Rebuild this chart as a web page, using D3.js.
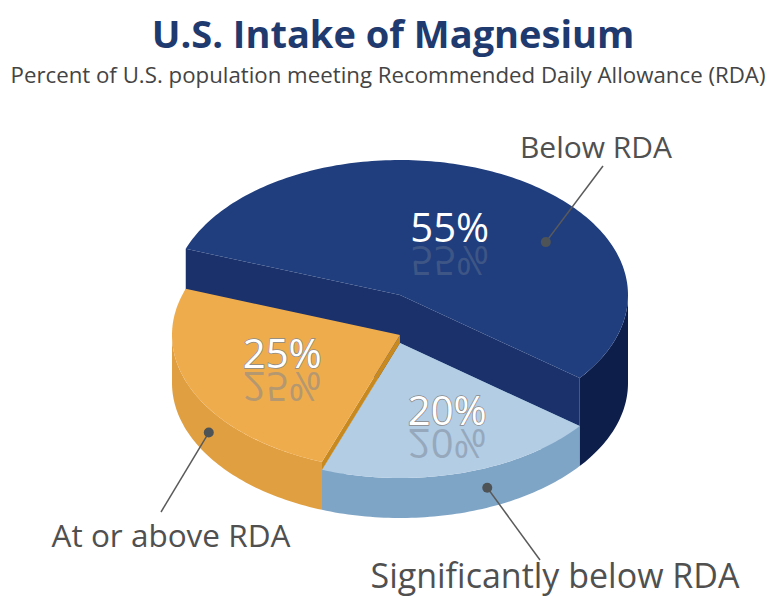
<!DOCTYPE html>
<html>
<head>
<meta charset="utf-8">
<script src="https://cdn.jsdelivr.net/npm/d3@7/dist/d3.min.js"></script>
<style>
  body { margin: 0; background: #fff; }
  svg { display: block; }
</style>
</head>
<body>
<svg id="svg" width="772" height="597"></svg>
<script>
// data
const categories = ["Significantly below RDA", "At or above RDA", "Below RDA"];
const values = [20, 25, 55];
const pctLabels = ["20%", "25%", "55%"];

const title = "U.S. Intake of Magnesium";
const subtitle = "Percent of U.S. population meeting Recommended Daily Allowance (RDA)";

// look
const topColors = ["#b3cde5", "#efac4d", "#203e7e"];
const wallColors = ["#7fa5c6", "#e0a042", "#0e1e4b"];
const cutColors = ["#7fa5c6", "#c8891f", "#1a316b"];
const heights = [40, 48, 88];

const svg = d3.select("#svg");
const cx = 400, baseY = 383, rx = 228, ry = 135;

const pie = d3.pie().sort(null)
    .startAngle(128 * Math.PI / 180)
    .endAngle(488 * Math.PI / 180);
const arcs = pie(values);

// screen angle t: x = cx + rx cos t, y = cy + ry sin t
const toT = a => a - Math.PI / 2;
const pt = (t, cy, f = 1) => [cx + rx * f * Math.cos(t), cy + ry * f * Math.sin(t)];

function arcPts(t0, t1, cy) {
    const n = Math.max(2, Math.ceil(Math.abs(t1 - t0) / 0.02));
    return d3.range(n + 1).map(i => pt(t0 + (t1 - t0) * i / n, cy));
}
const line = d3.line();

function topPath(t0, t1, cy) {
    return line([[cx, cy], ...arcPts(t0, t1, cy)]) + "Z";
}
function wallPath(t0, t1, cyTop, cyBot) {
    return line([...arcPts(t0, t1, cyTop), ...arcPts(t1, t0, cyBot)]) + "Z";
}
function cutPath(t, cyTop, cyBot) {
    return line([[cx, cyTop], pt(t, cyTop), pt(t, cyBot), [cx, cyBot]]) + "Z";
}
// front (visible) part of the outer wall, sin t > 0
function frontRanges(t0, t1) {
    const out = [];
    for (let k = -1; k <= 2; k++) {
        const a = Math.max(t0, 2 * Math.PI * k), b = Math.min(t1, 2 * Math.PI * k + Math.PI);
        if (b > a) out.push([a, b]);
    }
    return out;
}

const pieG = svg.append("g");

// cutBot: how far down each radial face is drawn (down to the neighbour's top)
function drawSlice(i, cutBot0, cutBot1) {
    const d = arcs[i];
    const t0 = toT(d.startAngle), t1 = toT(d.endAngle);
    const cyTop = baseY - heights[i];
    const g = pieG.append("g");
    g.append("path").attr("d", cutPath(t0, cyTop, cutBot0)).attr("fill", cutColors[i]);
    g.append("path").attr("d", cutPath(t1, cyTop, cutBot1)).attr("fill", cutColors[i]);
    frontRanges(t0, t1).forEach(([a, b]) => {
        g.append("path").attr("d", wallPath(a, b, cyTop, baseY)).attr("fill", wallColors[i]);
    });
    g.append("path").attr("d", topPath(t0, t1, cyTop)).attr("fill", topColors[i]);
}
// tall slice first, lower ones over it
drawSlice(2, baseY, baseY);
drawSlice(0, baseY, baseY);
drawSlice(1, baseY - heights[0], baseY - heights[1]);

// percent labels with mirrored reflection
const labelPos = [
    { dt: -0.05, f: 0.64 },
    { dt: 0, f: 0.57 },
    { dt: 0, f: 0.45 }
];
arcs.forEach((d, i) => {
    const tm = toT((d.startAngle + d.endAngle) / 2) + labelPos[i].dt;
    const [x, y] = pt(tm, baseY - heights[i], labelPos[i].f);
    const g = svg.append("g").attr("transform", `translate(${x},${y})`);
    g.append("text")
        .attr("transform", "translate(0,4) scale(1,-1)")
        .attr("text-anchor", "middle")
        .attr("font-family", "Open Sans")
        .attr("font-size", 40)
        .attr("fill", "#7a8494")
        .attr("fill-opacity", i === 2 ? 0.35 : 0.5)
        .text(pctLabels[i]);
    g.append("text")
        .attr("text-anchor", "middle")
        .attr("font-family", "Open Sans")
        .attr("font-size", 40)
        .attr("fill", "#fff")
        .attr("stroke", i === 2 ? "none" : "#8a8a8a")
        .attr("stroke-width", 1.5)
        .attr("paint-order", "stroke")
        .text(pctLabels[i]);
});

// callouts
const callouts = [
    { onTop: false, t: 67.5, f: 1, end: [540, 560], text: [555, 588], size: 34 },
    { onTop: false, t: 147, f: 1, end: [161, 512], text: [171, 547], size: 31.5 },
    { onTop: true, t: 328.5, f: 0.75, end: [603, 166], text: [596, 158], size: 30 }
];
callouts.forEach((c, i) => {
    const cyTop = baseY - heights[i];
    const t = c.t * Math.PI / 180;
    const [x, y0] = pt(t, cyTop, c.f);
    const y = c.onTop ? y0 : y0 + heights[i] / 2;
    svg.append("line")
        .attr("x1", x).attr("y1", y)
        .attr("x2", c.end[0]).attr("y2", c.end[1])
        .attr("stroke", "#5a5a5a").attr("stroke-width", 1.5);
    svg.append("circle").attr("cx", x).attr("cy", y).attr("r", 5)
        .attr("fill", "#4e5356");
    svg.append("text")
        .attr("x", c.text[0]).attr("y", c.text[1])
        .attr("text-anchor", "middle")
        .attr("font-family", "Open Sans")
        .attr("font-size", c.size)
        .attr("fill", "#505050")
        .text(categories[i]);
});

svg.append("text")
    .attr("x", 393).attr("y", 48)
    .attr("text-anchor", "middle")
    .attr("font-family", "Open Sans")
    .attr("font-weight", "bold")
    .attr("font-size", 38)
    .attr("fill", "#1f3a6e")
    .text(title);
svg.append("text")
    .attr("x", 388).attr("y", 83)
    .attr("text-anchor", "middle")
    .attr("font-family", "Open Sans")
    .attr("font-size", 21)
    .attr("textLength", 755)
    .attr("lengthAdjust", "spacingAndGlyphs")
    .attr("fill", "#444")
    .text(subtitle);
</script>
</body>
</html>
